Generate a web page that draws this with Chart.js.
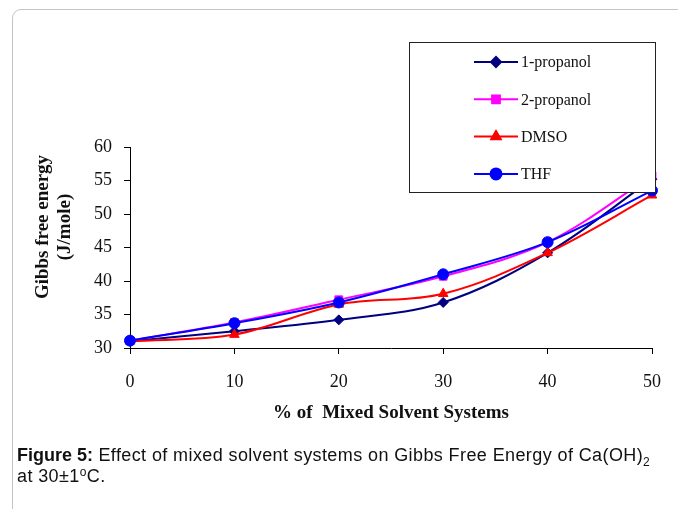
<!DOCTYPE html>
<html>
<head>
<meta charset="utf-8">
<script src="https://cdn.jsdelivr.net/npm/chart.js@4"></script>
<style>
  html, body { margin:0; padding:0; background:#fff; }
  body { width:678px; height:509px; position:relative; overflow:hidden; }
  #frame { position:absolute; left:12px; top:9px; width:720px; height:560px; border:1px solid #c4c4c4; border-radius:9px; box-sizing:border-box; }
  #wrap { position:absolute; left:0; top:0; width:678px; height:509px; }
  #caption { position:absolute; left:17px; top:445px; font-family:"Liberation Sans", Arial, sans-serif; font-size:18px; letter-spacing:0.4px; line-height:21px; color:#111; white-space:nowrap; }
  #caption b { font-weight:bold; letter-spacing:0; }
  sub { font-size:12px; vertical-align:-5px; line-height:0; }
  sup { font-size:12px; vertical-align:6px; line-height:0; }
</style>
</head>
<body>
<div id="frame"></div>
<div id="wrap"><canvas id="c" width="678" height="509"></canvas></div>
<div id="caption"><b>Figure 5:</b> Effect of mixed solvent systems on Gibbs Free Energy of Ca(OH)<sub>2</sub><br>at 30±1<sup>o</sup>C.</div>
<script>
const categories = ['0', '10', '20', '30', '40', '50'];
const seriesNames = ['1-propanol', '2-propanol', 'DMSO', 'THF'];
const propanol1 = [31.0, 32.5, 34.2, 36.8, 44.2, 55.2];
const propanol2 = [31.1, 33.8, 37.2, 40.7, 45.8, 55.7];
const dmso = [31.0, 32.0, 36.5, 38.1, 44.2, 52.8];
const thf = [31.1, 33.7, 36.8, 41.0, 45.8, 53.5];
const yTicks = [30, 35, 40, 45, 50, 55, 60];
const xTitle = '% of  Mixed Solvent Systems';
const yTitle = ['Gibbs free energy', '(J/mole)'];

const serif = "'Liberation Serif', 'Times New Roman', serif";

const styles = [
  {color:'#000080', point:'rectRot', r:5},
  {color:'#FF00FF', point:'rect', r:5.5},
  {color:'#FF0000', point:'triangle', r:5.5},
  {color:'#0000FF', point:'circle', r:5.5}
];
const values = [propanol1, propanol2, dmso, thf];

const datasets = values.map((v, i) => ({
  label: seriesNames[i],
  data: v,
  borderColor: styles[i].color,
  backgroundColor: styles[i].color,
  pointStyle: styles[i].point,
  pointRadius: styles[i].r,
  pointBorderWidth: 1,
  borderWidth: 2,
  tension: 0.35,
  clip: false,
  order: 4 - i
}));

const customLegend = {
  id: 'customLegend',
  afterDraw(chart) {
    const ctx = chart.ctx;
    ctx.save();
    const bx = 409.5, by = 42.5, bw = 246, bh = 150;
    ctx.fillStyle = '#fff';
    ctx.fillRect(bx, by, bw, bh);
    ctx.strokeStyle = '#222';
    ctx.lineWidth = 1;
    ctx.strokeRect(bx, by, bw, bh);
    chart.data.datasets.forEach((ds, i) => {
      const y = 62 + i * 37.3;
      ctx.strokeStyle = ds.borderColor;
      ctx.lineWidth = 2;
      ctx.beginPath();
      ctx.moveTo(474, y);
      ctx.lineTo(518, y);
      ctx.stroke();
      ctx.fillStyle = ds.backgroundColor;
      Chart.helpers.drawPoint(ctx, {pointStyle: ds.pointStyle, radius: ds.pointRadius, borderWidth: 1}, 496, y);
      ctx.fill();
      ctx.fillStyle = '#111';
      ctx.font = '16px ' + serif;
      ctx.textAlign = 'left';
      ctx.textBaseline = 'middle';
      ctx.fillText(ds.label, 521, y + 1);
    });
    ctx.font = 'bold 19px ' + serif;
    ctx.fillStyle = '#111';
    ctx.textAlign = 'center';
    ctx.textBaseline = 'middle';
    const xs = [43, 65];
    yTitle.forEach((t, k) => {
      ctx.save();
      ctx.translate(xs[k], 227);
      ctx.rotate(-Math.PI / 2);
      ctx.fillText(t, 0, 0);
      ctx.restore();
    });
    ctx.restore();
  }
};

new Chart(document.getElementById('c'), {
  type: 'line',
  data: { labels: categories, datasets },
  options: {
    responsive: false,
    animation: false,
    devicePixelRatio: 1,
    layout: { padding: { left: 0, right: 25, top: 147, bottom: 85 } },
    plugins: { legend: { display: false }, tooltip: { enabled: false } },
    scales: {
      x: {
        offset: false,
        grid: { drawOnChartArea: false, drawTicks: true, tickLength: 6, color: '#000' },
        border: { display: true, color: '#000', width: 1 },
        ticks: { color: '#111', font: { family: serif, size: 18 }, padding: 17, maxRotation: 0 },
        title: { display: true, text: xTitle, color: '#111', font: { family: serif, size: 19, weight: 'bold' }, padding: { top: 6, bottom: 0 } },
        afterFit(s) { s.height = 76; }
      },
      y: {
        min: 30, max: 60,
        afterBuildTicks(s) { s.ticks = yTicks.map(v => ({ value: v })); },
        grid: { drawOnChartArea: false, drawTicks: true, tickLength: 6, color: '#000' },
        border: { display: true, color: '#000', width: 1 },
        ticks: { color: '#111', font: { family: serif, size: 18 }, padding: 12 },
        afterFit(s) { s.width = 130; }
      }
    }
  },
  plugins: [customLegend]
});
</script>
</body>
</html>
